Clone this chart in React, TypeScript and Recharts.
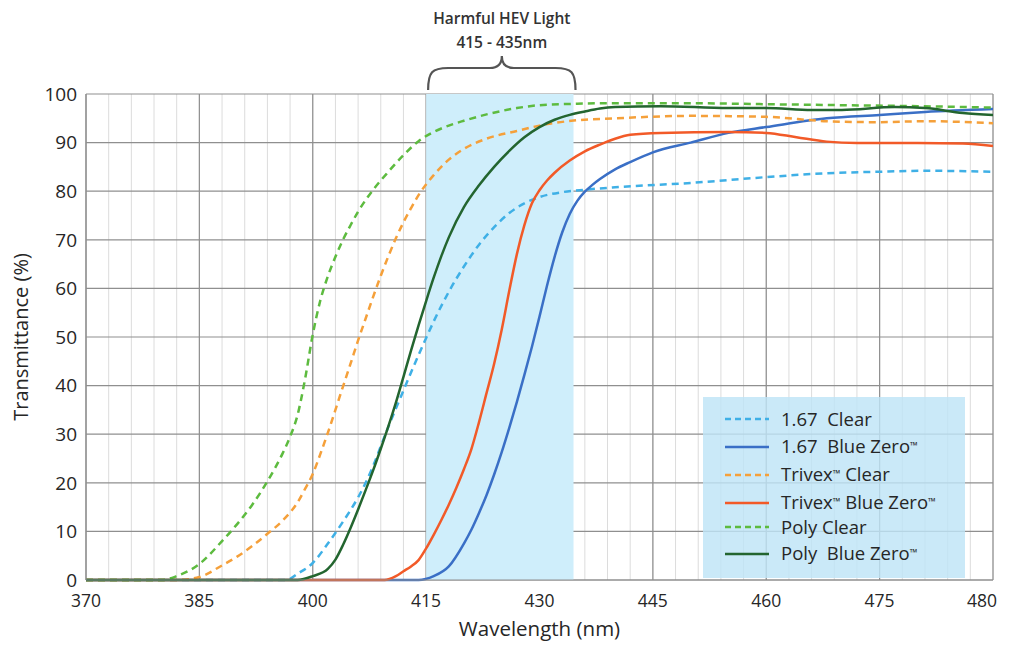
import React from 'react'
import {
  LineChart,
  Line,
  XAxis,
  YAxis,
  CartesianGrid,
  ReferenceArea
} from 'recharts'

// wavelength (nm), transmittance (%)
const clear167: [number, number][] = [
  [370, 0], [396.5, 0], [398, 1.3], [400, 3.5], [402, 7.5], [404, 12], [406, 17], [407, 20],
  [408, 23.5], [409, 27.5], [410, 31.5], [411, 35.3], [412, 39], [413, 42.7], [414, 46.3], [415, 49.8],
  [416, 53.2], [418, 59.3], [420, 64.5], [422, 69], [424, 72.6], [426, 75.5], [428, 77.5], [430, 78.8],
  [433, 79.8], [436, 80.3], [440, 80.8], [450, 81.7], [460, 82.9], [468, 83.7], [475, 84], [481, 84.2],
  [490, 84]
]

const blueZero167: [number, number][] = [
  [370, 0], [414, 0], [416, 0.8], [418, 2.8], [420, 7.5], [421, 10.4], [422, 13.8], [423, 17.5],
  [424, 21.7], [425, 26.3], [426, 31.3], [427, 36.6], [428, 42.2], [429, 48], [430, 54.2], [431, 60.6],
  [432, 66.5], [433, 71.5], [434, 75.3], [435, 78], [436, 79.9], [437, 81.3], [438, 82.5], [440, 84.5],
  [442, 86], [445, 88], [450, 90], [455, 92], [460, 93.2], [468, 95], [475, 95.7], [481, 96.3],
  [490, 96.9]
]

const trivexClear: [number, number][] = [
  [370, 0], [382, 0], [385, 0.6], [388, 3], [390, 4.8], [392, 7], [394, 9.5], [396, 12.2],
  [398, 16], [399, 18.8], [400, 21.8], [401, 25.9], [402, 30.3], [403, 35], [404, 39.8], [405, 44.5],
  [406, 49.3], [407, 53.8], [408, 58.3], [409, 62.6], [410, 66.6], [411, 70.3], [412, 73.6], [413, 76.5],
  [414, 79.2], [416, 83.3], [418, 86.5], [420, 88.7], [423, 90.8], [427, 92.4], [431, 93.8], [435, 94.6],
  [440, 95], [450, 95.5], [460, 95.3], [468, 94.4], [475, 94.2], [481, 94.4], [490, 94]
]

const trivexBlueZero: [number, number][] = [
  [370, 0], [409.5, 0], [411, 0.8], [412, 1.8], [413, 2.8], [414, 4.1], [415, 6.5], [416, 9.3],
  [417, 12.3], [418, 15.5], [419, 19], [420, 22.8], [421, 27], [422, 32.5], [423, 38.5], [424, 44.5],
  [425, 51.5], [426, 59.5], [427, 67], [428, 73], [429, 77.5], [430, 80.2], [431, 82.2], [432, 83.8],
  [434, 86.3], [436, 88.2], [438, 89.6], [440, 90.8], [442, 91.6], [446, 92], [455, 92.2], [460, 92],
  [464, 91.1], [468, 90.2], [472, 89.9], [480, 89.9], [486, 89.8], [490, 89.3]
]

const polyClear: [number, number][] = [
  [370, 0], [380, 0], [382, 0.8], [385, 3.3], [388, 8], [390, 11.5], [392, 15.5], [394, 20.3],
  [395, 23], [396, 26], [397, 29.5], [398, 34], [399, 41.5], [400, 50.5], [401, 57.5], [402, 62.5],
  [403, 66.5], [404, 70], [405, 73], [406, 75.8], [408, 80.3], [410, 84], [412, 87.4], [414, 90.3],
  [416, 92.2], [418, 93.5], [420, 94.5], [423, 95.8], [427, 97.1], [430, 97.7], [435, 98], [440, 98.1],
  [450, 98.1], [460, 97.9], [470, 97.7], [480, 97.5], [490, 97.2]
]

const polyBlueZero: [number, number][] = [
  [370, 0], [398, 0], [400, 0.8], [402, 2.3], [403, 4.2], [404, 7.2], [405, 10.7], [406, 14.5],
  [407, 18.5], [408, 22.6], [409, 27], [410, 31.6], [411, 36.5], [412, 41.8], [413, 47.2], [414, 52.4],
  [415, 57.4], [416, 62.2], [417, 66.6], [418, 70.5], [420, 76.7], [422, 81.2], [424, 85], [426, 88.3],
  [428, 91.1], [430, 93.2], [432, 94.7], [434, 95.7], [436, 96.4], [438, 97], [440, 97.3], [446, 97.5],
  [455, 97.1], [460, 97.1], [466, 96.7], [470, 96.7], [477, 97.3], [481, 97.1], [486, 96.1], [490, 95.7]
]

const xDomain = [370, 490]
const xTicks = [370, 385, 400, 415, 430, 445, 460, 475, 490]
const yTicks = [0, 10, 20, 30, 40, 50, 60, 70, 80, 90, 100]
const hevRange = [415, 434.5]

const series = [
  { name: '1.67  Clear', data: clear167, color: '#3fb0e6', dashed: true },
  { name: '1.67  Blue Zero™', data: blueZero167, color: '#3a6fc6', dashed: false },
  { name: 'Trivex™ Clear', data: trivexClear, color: '#f5a03a', dashed: true },
  { name: 'Trivex™ Blue Zero™', data: trivexBlueZero, color: '#f25a28', dashed: false },
  { name: 'Poly Clear', data: polyClear, color: '#5dbb3f', dashed: true },
  { name: 'Poly  Blue Zero™', data: polyBlueZero, color: '#23652f', dashed: false }
]

// legend row centres, measured from the top of the legend box
const legendRowTops = [22, 50, 78, 106, 130, 157]

const FONT = '"Open Sans", "Noto Sans", sans-serif'
const TEXT = '#262626'

const toPoints = (rows: [number, number][]) => rows.map(([x, y]) => ({ x, y }))

// the printed axis calls its last tick "480"
function XTick(props: any) {
  const { x, y, payload } = props
  const last = payload.value === xDomain[1]
  return (
    <text
      x={x}
      y={y}
      dy="0.71em"
      dx={last ? -9 : 0}
      textAnchor="middle"
      fontSize={17.5}
      fontFamily={FONT}
      fill={TEXT}
    >
      {last ? '480' : payload.value}
    </text>
  )
}

// brace + caption above the HEV band
function BraceLabel(props: any) {
  const vb = props.viewBox
  if (!vb) return null
  const x0 = vb.x + 2
  const x1 = vb.x + vb.width + 2
  const mid = (x0 + x1) / 2
  const y0 = vb.y
  const h = y0 - 26
  const d = `M ${x0} ${y0 - 4} C ${x0} ${h + 4} ${x0 + 4} ${h} ${x0 + 20} ${h}
    L ${mid - 12} ${h} C ${mid - 4} ${h} ${mid} ${h - 4} ${mid} ${h - 12}
    C ${mid} ${h - 4} ${mid + 4} ${h} ${mid + 12} ${h}
    L ${x1 - 20} ${h} C ${x1 - 4} ${h} ${x1} ${h + 4} ${x1} ${y0 - 4}`
  return (
    <g>
      <path d={d} fill="none" stroke="#555" strokeWidth={2.2} />
      <text x={mid} y={y0 - 70} textAnchor="middle" fontSize={15.5} fontFamily={FONT} fontWeight={600} fill="#333">
        Harmful HEV Light
      </text>
      <text x={mid} y={y0 - 46} textAnchor="middle" fontSize={15.5} fontFamily={FONT} fontWeight={600} fill="#333">
        415 - 435nm
      </text>
    </g>
  )
}

// small raised trademark marks, as in the printed legend
function LegendName({ text }: { text: string }) {
  const parts = text.split('™')
  return (
    <span style={{ whiteSpace: 'pre' }}>
      {parts.map((p, i) => (
        <React.Fragment key={i}>
          {p}
          {i < parts.length - 1 && (
            <span style={{ fontSize: 10, position: 'relative', top: -4 }}>™</span>
          )}
        </React.Fragment>
      ))}
    </span>
  )
}

function LegendBox() {
  return (
    <div
      style={{
        position: 'absolute',
        left: 695,
        top: 389,
        width: 262,
        height: 181,
        background: 'rgba(190, 228, 246, 0.82)',
        fontFamily: FONT,
        fontSize: 18.5,
        color: TEXT
      }}
    >
      {series.map((s, i) => (
        <div
          key={s.name}
          style={{
            position: 'absolute',
            left: 22,
            top: legendRowTops[i] - 12,
            height: 24,
            lineHeight: '24px',
            display: 'flex',
            alignItems: 'center'
          }}
        >
          <svg width={46} height={10} style={{ marginRight: 10 }}>
            <line
              x1={0}
              y1={5}
              x2={44}
              y2={5}
              stroke={s.color}
              strokeWidth={2.5}
              strokeDasharray={s.dashed ? '6 4' : undefined}
            />
          </svg>
          <LegendName text={s.name} />
        </div>
      ))}
    </div>
  )
}

// minor vertical grid every 3 nm
const minorVertical = ({ offset }: any) => {
  const pts: number[] = []
  for (let v = xDomain[0]; v <= xDomain[1]; v += 3) {
    pts.push(offset.left + ((v - xDomain[0]) / (xDomain[1] - xDomain[0])) * offset.width)
  }
  return pts
}

export default function App() {
  return (
    <div
      style={{
        position: 'relative',
        width: 995,
        height: 633,
        overflow: 'hidden',
        background: '#fff'
      }}
    >
      <LineChart width={995} height={633} margin={{ top: 86, right: 10, bottom: 0, left: 0 }}>
        <ReferenceArea
          x1={hevRange[0]}
          x2={hevRange[1]}
          y1={0}
          y2={100}
          fill="#cfeefb"
          fillOpacity={1}
          stroke="none"
          label={<BraceLabel />}
        />
        <CartesianGrid
          horizontal={false}
          stroke="#dcdcdc"
          strokeWidth={1}
          verticalCoordinatesGenerator={minorVertical}
        />
        <CartesianGrid stroke="#8f8f8f" strokeWidth={1.2} />
        <XAxis
          type="number"
          dataKey="x"
          domain={xDomain}
          ticks={xTicks}
          allowDataOverflow
          height={61}
          tickSize={0}
          tickMargin={15}
          axisLine={{ stroke: '#8f8f8f' }}
          tick={<XTick />}
          label={{ value: 'Wavelength (nm)', position: 'insideBottom', offset: 5, fontSize: 20.5, fill: TEXT, fontFamily: FONT }}
        />
        <YAxis
          type="number"
          domain={[0, 100]}
          ticks={yTicks}
          width={78}
          tickSize={0}
          tickMargin={9}
          axisLine={{ stroke: '#8f8f8f' }}
          tick={{ fontSize: 19, fill: TEXT, fontFamily: FONT }}
          label={{
            value: 'Transmittance (%)',
            angle: -90,
            position: 'insideLeft',
            offset: 13,
            fontSize: 20,
            fill: TEXT,
            fontFamily: FONT,
            style: { textAnchor: 'middle' }
          }}
        />
        {series.map(s => (
          <Line
            key={s.name}
            data={toPoints(s.data)}
            dataKey="y"
            name={s.name}
            type="monotone"
            stroke={s.color}
            strokeWidth={2.5}
            strokeDasharray={s.dashed ? '7 5' : undefined}
            dot={false}
            activeDot={false}
            isAnimationActive={false}
          />
        ))}
      </LineChart>
      <LegendBox />
    </div>
  )
}
